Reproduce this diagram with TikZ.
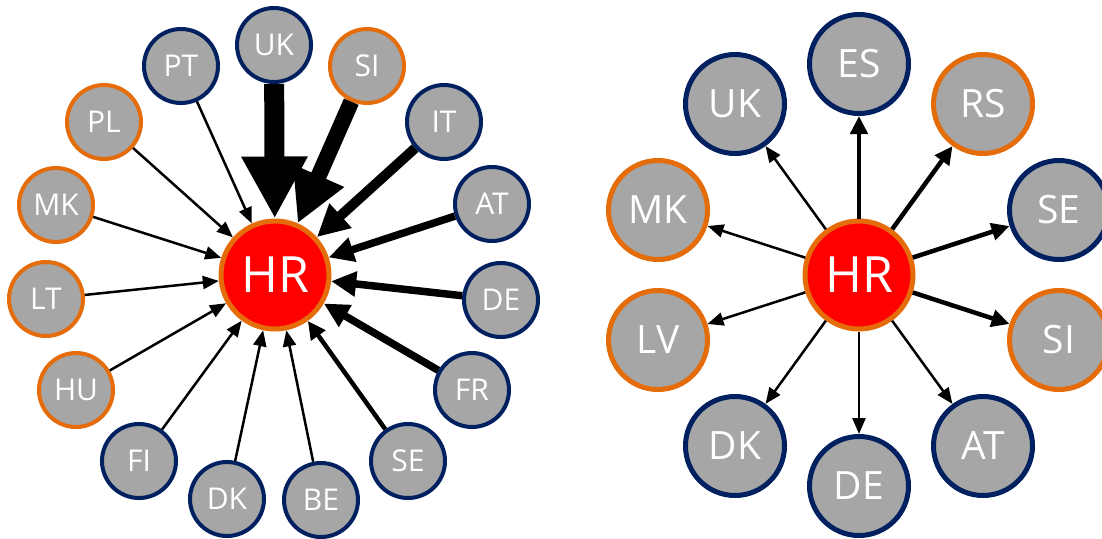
\documentclass[tikz,border=0pt]{standalone}
\usepackage{fontspec}
\setmainfont{Open Sans}
\usetikzlibrary{arrows.meta}
\definecolor{navy}{RGB}{0,32,96}
\definecolor{ochre}{RGB}{228,108,10}
\definecolor{greyfill}{RGB}{166,166,166}
\tikzset{
  land/.style={circle, fill=greyfill, text=white, inner sep=0pt, minimum size=74pt, line width=4pt, font=\fontsize{30}{30}\selectfont},
  bigland/.style={land, minimum size=99pt, line width=5pt, font=\fontsize{39}{39}\selectfont},
  eu/.style={draw=navy},
  noneu/.style={draw=ochre},
  hub/.style={circle, fill=red, draw=ochre, text=white, inner sep=0pt, minimum size=108pt, line width=5pt, font=\fontsize{50}{50}\selectfont},
  flowa/.style={line width=2.5pt, -{Triangle[length=16pt,width=13pt]}},
  flowb/.style={line width=4.5pt, -{Triangle[length=18pt,width=17pt]}},
  flowc/.style={line width=7.5pt, -{Triangle[length=25pt,width=24pt]}},
  flowd/.style={line width=10pt, -{Triangle[length=32pt,width=31pt]}},
  flowe/.style={line width=16pt, -{Triangle[length=52pt,width=52pt]}},
  flowf/.style={line width=20pt, -{Triangle[length=62pt,width=62pt]}}
}
\begin{document}
\begin{tikzpicture}[x=1pt, y=-1pt]
        \useasboundingbox (0,0) rectangle (1102,538);
        % inflows
        \node[hub] (hrA) at (275,275) {HR};
        \node[land, eu] (ukA) at (274,45) {UK};
        \node[land, noneu] (siA) at (367,66) {SI};
        \node[land, eu] (itA) at (444,122) {IT};
        \node[land, eu] (atA) at (492,204) {AT};
        \node[land, eu] (deA) at (501,300) {DE};
        \node[land, eu] (frA) at (472,390) {FR};
        \node[land, eu] (seA) at (408,461) {SE};
        \node[land, eu] (beA) at (321,500) {BE};
        \node[land, eu] (dkA) at (227,499) {DK};
        \node[land, eu] (fiA) at (139,461) {FI};
        \node[land, noneu] (huA) at (76,390) {HU};
        \node[land, noneu] (ltA) at (46,299) {LT};
        \node[land, noneu] (mkA) at (56,205) {MK};
        \node[land, noneu] (plA) at (104,122) {PL};
        \node[land, eu] (ptA) at (181,66) {PT};
            \draw[flowf] (ukA) -- (hrA);
            \draw[flowe] (siA) -- (hrA);
            \draw[flowd] (itA) -- (hrA);
            \draw[flowc] (atA) -- (hrA);
            \draw[flowc] (deA) -- (hrA);
            \draw[flowc] (frA) -- (hrA);
            \draw[flowb] (seA) -- (hrA);
            \draw[flowa] (beA) -- (hrA);
            \draw[flowa] (dkA) -- (hrA);
            \draw[flowa] (fiA) -- (hrA);
            \draw[flowa] (huA) -- (hrA);
            \draw[flowa] (ltA) -- (hrA);
            \draw[flowa] (mkA) -- (hrA);
            \draw[flowa] (plA) -- (hrA);
            \draw[flowa] (ptA) -- (hrA);
        % outflows
        \node[hub] (hrB) at (859,275) {HR};
        \node[bigland, eu] (esB) at (859,64) {ES};
        \node[bigland, noneu] (rsB) at (983,104) {RS};
        \node[bigland, eu] (seB) at (1059,210) {SE};
        \node[bigland, noneu] (siB) at (1059,340) {SI};
        \node[bigland, eu] (atB) at (983,446) {AT};
        \node[bigland, eu] (deB) at (859,486) {DE};
        \node[bigland, eu] (dkB) at (735,446) {DK};
        \node[bigland, noneu] (lvB) at (658,340) {LV};
        \node[bigland, noneu] (mkB) at (658,210) {MK};
        \node[bigland, eu] (ukB) at (735,104) {UK};
            \draw[flowb] (hrB) -- (esB);
            \draw[flowb] (hrB) -- (rsB);
            \draw[flowb] (hrB) -- (seB);
            \draw[flowb] (hrB) -- (siB);
            \draw[flowa] (hrB) -- (atB);
            \draw[flowa] (hrB) -- (deB);
            \draw[flowa] (hrB) -- (dkB);
            \draw[flowa] (hrB) -- (lvB);
            \draw[flowa] (hrB) -- (mkB);
            \draw[flowa] (hrB) -- (ukB);
\end{tikzpicture}
\end{document}
